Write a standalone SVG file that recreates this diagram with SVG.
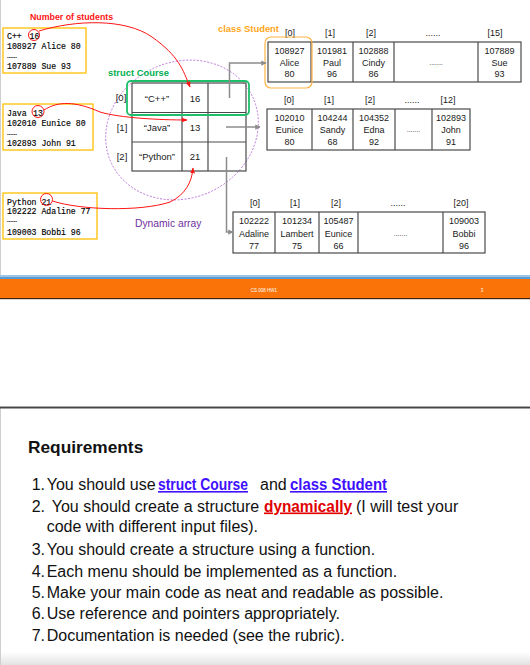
<svg xmlns="http://www.w3.org/2000/svg" width="530" height="665" viewBox="0 0 530 665">
<style>
.mono{font-family:"Liberation Mono","DejaVu Sans Mono",monospace;font-size:8.2px;fill:#000;stroke:#000;stroke-width:0.15}
.cell{font-family:"Liberation Sans",Arial,sans-serif;font-size:9px;fill:#1a1a1a;text-anchor:middle}
.sc{font-family:"Liberation Sans",Arial,sans-serif;font-size:9.5px;fill:#1a1a1a;text-anchor:middle}
.dots{font-family:"Liberation Sans",Arial,sans-serif;font-size:7px;fill:#333;text-anchor:middle}
.grid{fill:none;stroke:#4a4a4a;stroke-width:1.2}
.inbox{fill:#fff;stroke:#FFC000;stroke-width:1.3}
.ptr{fill:none;stroke:#8c8c8c;stroke-width:1.5}
.red{fill:none;stroke:#FF1414;stroke-width:1}
.ttl{font-family:"Liberation Sans",Arial,sans-serif;font-weight:bold}
.req{font-family:"Liberation Sans",Arial,sans-serif;font-size:16px;fill:#111}
.lnk{font-weight:bold;fill:#4010FF;text-decoration:underline}
</style>
<defs>
<marker id="ag" viewBox="0 0 10 10" refX="9" refY="5" markerWidth="3.5" markerHeight="3.5" orient="auto"><path d="M0,0L10,5L0,10z" fill="#8c8c8c"/></marker>
<marker id="ar" viewBox="0 0 10 10" refX="9" refY="5" markerWidth="6" markerHeight="6" orient="auto"><path d="M0,1L10,5L0,9z" fill="#FF1414"/></marker>
<linearGradient id="shade" x1="0" y1="0" x2="0" y2="1"><stop offset="0" stop-color="#fff"/><stop offset="1" stop-color="#e2e2e2"/></linearGradient>
</defs>
<rect width="530" height="665" fill="#fff"/>
<line x1="0.5" y1="0" x2="0.5" y2="276" stroke="#cfcfcf"/>
<line x1="0.5" y1="408" x2="0.5" y2="665" stroke="#cfcfcf"/>

<!-- input files -->
<g id="input-cpp">
<rect class="inbox" x="3" y="28" width="83" height="45"/>
<text class="mono" x="7" y="38.5">C++ <tspan x="29.5">16</tspan></text>
<text class="mono" x="7" y="48.5">108927 Alice 80</text>
<text class="mono" x="7" y="58">……</text>
<text class="mono" x="7" y="68.5">107889 Sue 93</text>
<circle class="red" cx="34" cy="35" r="5.5"/>
</g>
<g id="input-java">
<rect class="inbox" x="3" y="104" width="90" height="46"/>
<text class="mono" x="7" y="116">Java <tspan x="33">13</tspan></text>
<text class="mono" x="7" y="126">102010 Eunice 80</text>
<text class="mono" x="7" y="134.5">……</text>
<text class="mono" x="7" y="145.5">102893 John 91</text>
<circle class="red" cx="38" cy="111.5" r="6"/>
</g>
<g id="input-python">
<rect class="inbox" x="3" y="193" width="94" height="46"/>
<text class="mono" x="7" y="205">Python 21</text>
<text class="mono" x="7" y="213.5">102222 Adaline 77</text>
<text class="mono" x="7" y="222">……</text>
<text class="mono" x="7" y="235">109003 Bobbi 96</text>
<circle class="red" cx="46.5" cy="199.5" r="6"/>
</g>

<!-- dynamic array ellipse -->
<g id="dynamic-array">
<ellipse cx="182" cy="130" rx="78" ry="68" transform="rotate(-25 182 130)" fill="none" stroke="#B367D6" stroke-width="0.8" stroke-dasharray="2 1.5"/>
<text x="135" y="227" font-family="Liberation Sans, Arial, sans-serif" font-size="10.3" fill="#7030A0">Dynamic array</text>
</g>

<!-- struct Course table -->
<g id="struct-course">
<rect class="grid" x="132" y="83" width="114" height="88"/>
<line class="grid" x1="182" y1="83" x2="182" y2="171"/>
<line class="grid" x1="208" y1="83" x2="208" y2="171"/>
<line class="grid" x1="132" y1="112.5" x2="246" y2="112.5"/>
<line class="grid" x1="132" y1="142" x2="246" y2="142"/>
<text class="sc" x="121" y="101">[0]</text>
<text class="sc" x="122" y="130.5">[1]</text>
<text class="sc" x="122" y="160">[2]</text>
<text class="sc" x="157" y="101.5">“C++”</text>
<text class="sc" x="195" y="101.5">16</text>
<text class="sc" x="157" y="130.5">“Java”</text>
<text class="sc" x="195" y="130.5">13</text>
<text class="sc" x="157" y="160">“Python”</text>
<text class="sc" x="195" y="160">21</text>
<rect x="127" y="81" width="122" height="34" rx="4" fill="none" stroke="#1DBF6A" stroke-width="1.8"/>
<text class="ttl" x="108" y="75.5" font-size="9.4" fill="#00B050">struct Course</text>
</g>

<!-- student arrays -->
<g id="array-cpp">
<text class="ttl" x="218" y="32" font-size="9.4" fill="#FFA61A">class Student</text>
<rect class="grid" x="268" y="42" width="253" height="40"/>
<line class="grid" x1="311" y1="42" x2="311" y2="82"/>
<line class="grid" x1="353" y1="42" x2="353" y2="82"/>
<line class="grid" x1="394" y1="42" x2="394" y2="82"/>
<line class="grid" x1="478" y1="42" x2="478" y2="82"/>
<text class="cell" y="35.5"><tspan x="290">[0]</tspan><tspan x="330">[1]</tspan><tspan x="371">[2]</tspan><tspan x="433">......</tspan><tspan x="495">[15]</tspan></text>
<text class="cell"><tspan x="289.5" y="54">108927</tspan><tspan x="289.5" y="65.5">Alice</tspan><tspan x="289.5" y="77">80</tspan></text>
<text class="cell"><tspan x="332" y="54">101981</tspan><tspan x="332" y="65.5">Paul</tspan><tspan x="332" y="77">96</tspan></text>
<text class="cell"><tspan x="373.5" y="54">102888</tspan><tspan x="373.5" y="65.5">Cindy</tspan><tspan x="373.5" y="77">86</tspan></text>
<text class="dots" x="436" y="64.5">.......</text>
<text class="cell"><tspan x="499.5" y="54">107889</tspan><tspan x="499.5" y="65.5">Sue</tspan><tspan x="499.5" y="77">93</tspan></text>
<rect x="265" y="37" width="47" height="51" rx="6" fill="none" stroke="#FFB347" stroke-width="1.2"/>
</g>
<g id="array-java">
<rect class="grid" x="267" y="109" width="203" height="41"/>
<line class="grid" x1="312" y1="109" x2="312" y2="150"/>
<line class="grid" x1="353" y1="109" x2="353" y2="150"/>
<line class="grid" x1="395" y1="109" x2="395" y2="150"/>
<line class="grid" x1="432" y1="109" x2="432" y2="150"/>
<text class="cell" y="103.3"><tspan x="289">[0]</tspan><tspan x="329">[1]</tspan><tspan x="370">[2]</tspan><tspan x="412">......</tspan><tspan x="448">[12]</tspan></text>
<text class="cell"><tspan x="289.5" y="120.5">102010</tspan><tspan x="289.5" y="132.5">Eunice</tspan><tspan x="289.5" y="144.5">80</tspan></text>
<text class="cell"><tspan x="332.5" y="120.5">104244</tspan><tspan x="332.5" y="132.5">Sandy</tspan><tspan x="332.5" y="144.5">68</tspan></text>
<text class="cell"><tspan x="374" y="120.5">104352</tspan><tspan x="374" y="132.5">Edna</tspan><tspan x="374" y="144.5">92</tspan></text>
<text class="dots" x="413.5" y="132">.......</text>
<text class="cell"><tspan x="451" y="120.5">102893</tspan><tspan x="451" y="132.5">John</tspan><tspan x="451" y="144.5">91</tspan></text>
</g>
<g id="array-python">
<rect class="grid" x="233" y="212" width="252" height="41"/>
<line class="grid" x1="275" y1="212" x2="275" y2="253"/>
<line class="grid" x1="319" y1="212" x2="319" y2="253"/>
<line class="grid" x1="358" y1="212" x2="358" y2="253"/>
<line class="grid" x1="443" y1="212" x2="443" y2="253"/>
<text class="cell" y="206"><tspan x="255">[0]</tspan><tspan x="295">[1]</tspan><tspan x="336">[2]</tspan><tspan x="398">......</tspan><tspan x="461">[20]</tspan></text>
<text class="cell"><tspan x="254" y="224">102222</tspan><tspan x="254" y="236.5">Adaline</tspan><tspan x="254" y="249">77</tspan></text>
<text class="cell"><tspan x="297" y="224">101234</tspan><tspan x="297" y="236.5">Lambert</tspan><tspan x="297" y="249">75</tspan></text>
<text class="cell"><tspan x="338.5" y="224">105487</tspan><tspan x="338.5" y="236.5">Eunice</tspan><tspan x="338.5" y="249">66</tspan></text>
<text class="dots" x="400.5" y="235.5">.......</text>
<text class="cell"><tspan x="464" y="224">109003</tspan><tspan x="464" y="236.5">Bobbi</tspan><tspan x="464" y="249">96</tspan></text>
</g>

<text class="ttl" x="30" y="20" font-size="8.8" fill="#FF1414">Number of students</text>

<!-- connectors -->
<g id="connectors">
<path class="ptr" d="M229.5,98V63H266" marker-end="url(#ag)"/>
<path class="ptr" d="M226,127H260" marker-end="url(#ag)"/>
<path class="ptr" d="M226.5,157V232H233" marker-end="url(#ag)"/>
<path class="red" d="M39,31C75,20 125,18 152,37S183,70 190,87" marker-end="url(#ar)"/>
<path class="red" d="M44,110C58,101 75,101 100,112C120,118 160,120 187,120" marker-end="url(#ar)"/>
<path class="red" d="M52.5,201C80,210 140,212 170,202C185,195 192,182 193,168" marker-end="url(#ar)"/>
</g>

<!-- footer -->
<g id="footer">
<rect x="0" y="275" width="530" height="2" fill="#9DC3E6"/>
<rect x="0" y="277" width="530" height="2" fill="#5B9BD5"/>
<rect x="0" y="279" width="530" height="19" fill="#FA7308"/>
<rect x="0" y="298" width="530" height="1.2" fill="#3d2410"/>
<text x="264" y="291.5" font-family="Liberation Sans, Arial, sans-serif" font-size="4.5" fill="#fff" text-anchor="middle">CS 008 HW1</text>
<text x="482" y="291.5" font-family="Liberation Sans, Arial, sans-serif" font-size="4.5" fill="#fff" text-anchor="middle">3</text>
</g>
<rect x="0" y="406" width="530" height="1" fill="#aaa"/>
<rect x="0" y="407" width="530" height="1.5" fill="#454545"/>

<!-- requirements -->
<g id="requirements">
<text class="ttl" x="28" y="453" font-size="17.3" fill="#111">Requirements</text>
<text class="req" y="490"><tspan x="31.7">1.</tspan><tspan x="46.7">You should use</tspan><tspan class="lnk" x="158" textLength="90" lengthAdjust="spacingAndGlyphs">struct Course</tspan><tspan x="260">and</tspan><tspan class="lnk" x="290" textLength="97" lengthAdjust="spacingAndGlyphs">class Student</tspan></text>
<text class="req" y="511.5"><tspan x="31.7">2.</tspan><tspan x="51.7">You should create a structure</tspan><tspan x="264" textLength="88" lengthAdjust="spacingAndGlyphs" style="font-weight:bold;fill:#E00000;text-decoration:underline">dynamically</tspan><tspan x="356">(I will test your</tspan></text>
<text class="req" x="46.7" y="532">code with different input files).</text>
<text class="req" y="555"><tspan x="31.7">3.</tspan><tspan x="46.7">You should create a structure using a function.</tspan></text>
<text class="req" y="576.5"><tspan x="31.7">4.</tspan><tspan x="46.7">Each menu should be implemented as a function.</tspan></text>
<text class="req" y="597.5"><tspan x="31.7">5.</tspan><tspan x="46.7">Make your main code as neat and readable as possible.</tspan></text>
<text class="req" y="618.5"><tspan x="31.7">6.</tspan><tspan x="46.7">Use reference and pointers appropriately.</tspan></text>
<text class="req" y="641"><tspan x="31.7">7.</tspan><tspan x="46.7">Documentation is needed (see the rubric).</tspan></text>
</g>
<rect x="1" y="652" width="529" height="13" fill="url(#shade)"/>
</svg>
